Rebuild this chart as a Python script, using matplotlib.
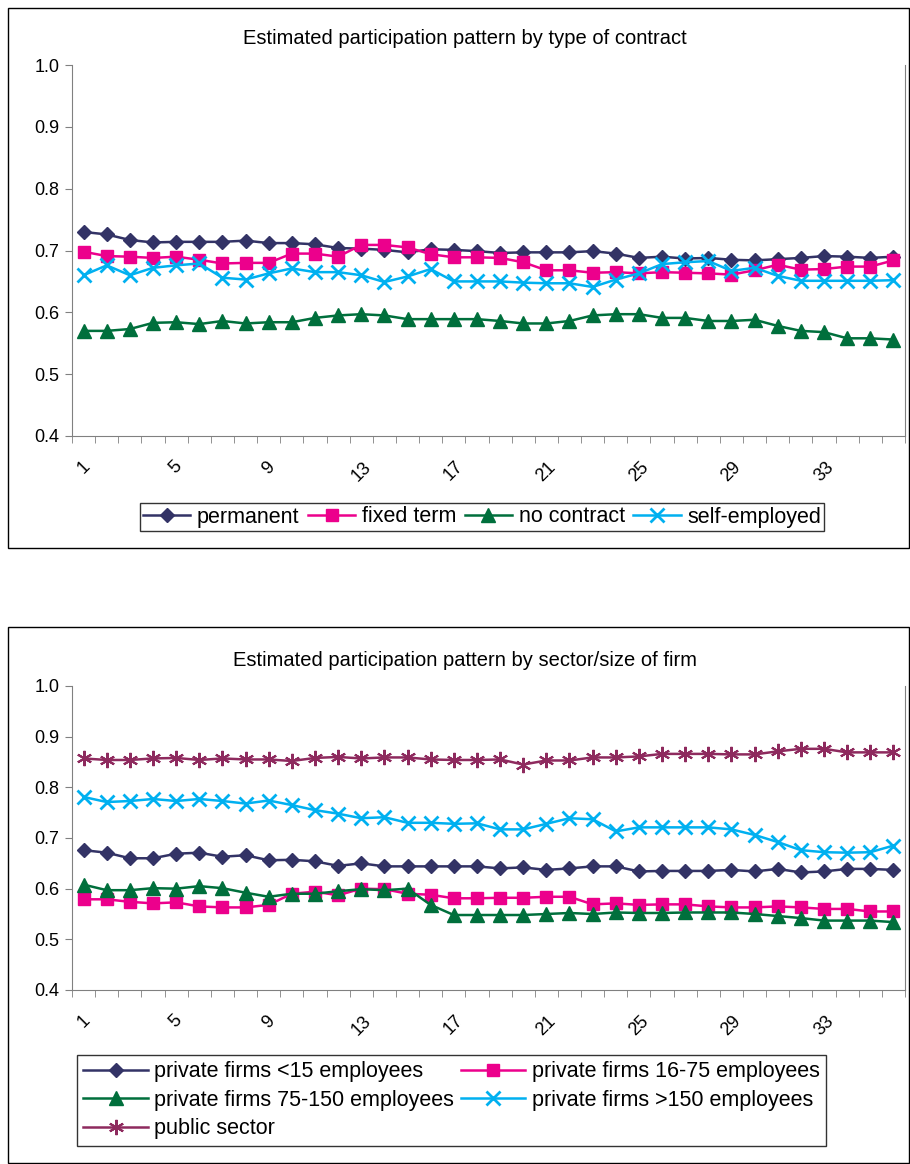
import matplotlib
matplotlib.use("Agg")
import matplotlib.pyplot as plt
from matplotlib.patches import Rectangle
import numpy as np

plt.rcParams['font.family'] = ['Liberation Sans', 'DejaVu Sans']

periods = list(range(1, 37))

permanent = [0.730,0.726,0.717,0.713,0.714,0.714,0.714,0.716,0.712,0.712,0.710,0.704,0.703,0.701,0.697,0.702,0.701,0.699,
             0.696,0.697,0.697,0.697,0.699,0.695,0.688,0.690,0.687,0.688,0.685,0.684,0.686,0.688,0.691,0.690,0.688,0.690]
fixed_term = [0.698,0.691,0.690,0.688,0.690,0.685,0.679,0.680,0.680,0.695,0.695,0.690,0.709,0.709,0.705,0.694,0.689,0.689,
              0.688,0.681,0.668,0.668,0.664,0.665,0.663,0.665,0.664,0.663,0.661,0.668,0.677,0.669,0.670,0.674,0.674,0.684]
no_contract = [0.570,0.570,0.573,0.583,0.584,0.581,0.586,0.582,0.584,0.584,0.591,0.595,0.597,0.595,0.589,0.589,0.589,0.589,
               0.586,0.582,0.582,0.586,0.595,0.597,0.597,0.591,0.591,0.586,0.586,0.588,0.578,0.570,0.568,0.558,0.558,0.556]
self_employed = [0.660,0.676,0.660,0.672,0.676,0.679,0.656,0.653,0.663,0.671,0.665,0.665,0.660,0.649,0.658,0.670,0.650,0.650,
                 0.650,0.648,0.647,0.647,0.641,0.653,0.663,0.678,0.681,0.683,0.667,0.672,0.659,0.651,0.651,0.651,0.651,0.652]

small = [0.676,0.671,0.660,0.660,0.669,0.671,0.663,0.666,0.656,0.657,0.654,0.645,0.650,0.644,0.644,0.644,0.644,0.644,
         0.640,0.642,0.637,0.640,0.644,0.644,0.634,0.635,0.635,0.635,0.637,0.634,0.639,0.632,0.634,0.639,0.639,0.637]
medium = [0.579,0.579,0.574,0.571,0.573,0.565,0.563,0.563,0.568,0.590,0.594,0.587,0.600,0.599,0.590,0.588,0.581,0.581,
          0.582,0.582,0.584,0.584,0.569,0.571,0.568,0.569,0.569,0.565,0.563,0.563,0.565,0.563,0.560,0.560,0.555,0.555]
large = [0.608,0.597,0.597,0.601,0.600,0.605,0.601,0.592,0.584,0.590,0.590,0.595,0.599,0.597,0.600,0.568,0.548,0.548,
         0.548,0.548,0.550,0.552,0.550,0.553,0.552,0.552,0.553,0.553,0.553,0.550,0.546,0.542,0.537,0.537,0.537,0.534]
very_large = [0.781,0.771,0.773,0.777,0.773,0.777,0.773,0.768,0.774,0.765,0.755,0.748,0.739,0.741,0.730,0.730,0.728,0.729,
              0.717,0.717,0.728,0.739,0.737,0.713,0.721,0.721,0.721,0.721,0.717,0.706,0.692,0.676,0.672,0.671,0.672,0.685]
public = [0.857,0.854,0.854,0.857,0.858,0.854,0.857,0.855,0.855,0.852,0.858,0.860,0.857,0.859,0.859,0.855,0.854,0.854,
          0.855,0.845,0.853,0.853,0.859,0.859,0.861,0.866,0.866,0.866,0.865,0.865,0.871,0.876,0.876,0.869,0.869,0.869]

tick_labels = ['1', '5', '9', '13', '17', '21', '25', '29', '33']
yticks = [0.4, 0.5, 0.6, 0.7, 0.8, 0.9, 1.0]

W, H = 910, 1164
fig = plt.figure(figsize=(W/100, H/100), dpi=100)
fig.patch.set_facecolor('white')

def px_axes(x0, y0, x1, y1):
    return fig.add_axes([x0/W, 1 - y1/H, (x1-x0)/W, (y1-y0)/H])

for (bx0, by0, bx1, by1) in [(8, 8, 909, 548), (8, 627, 909, 1163)]:
    fig.patches.append(Rectangle((bx0/W, 1-by1/H), (bx1-bx0)/W, (by1-by0)/H,
                                 transform=fig.transFigure, fill=False, edgecolor='black', lw=1))

def style(ax, title, ty):
    ax.set_xlim(0.5, 36.5)
    ax.set_ylim(0.4, 1.0)
    ax.set_yticks(yticks)
    ax.set_yticklabels([f'{v:.1f}' for v in yticks], fontsize=13)
    ax.set_xticks([int(t) for t in tick_labels])
    ax.set_xticklabels(tick_labels, rotation=45, fontsize=13, ha='center', va='top')
    ax.set_xticks(np.arange(0.5, 37, 1), minor=True)
    ax.tick_params(axis='x', which='major', length=0, pad=16)
    ax.tick_params(axis='x', which='minor', length=5, color='#808080')
    ax.tick_params(axis='y', length=5, color='#808080', pad=4)
    for s in ax.spines.values():
        s.set_color('#808080')
    ax.spines['top'].set_visible(False)
    fig.text(465/W, 1 - ty/H, title, ha='center', va='center', fontsize=14.5)

c_perm, c_fix, c_no, c_self, c_pub = '#333366', '#EC008C', '#006F3C', '#00B0F0', '#8E2A5E'

ax1 = px_axes(72, 65, 905, 436)
ax1.plot(periods, permanent, color=c_perm, marker='D', ms=7.5, lw=1.8, label='permanent')
ax1.plot(periods, fixed_term, color=c_fix, marker='s', ms=8.5, lw=1.8, label='fixed term')
ax1.plot(periods, no_contract, color=c_no, marker='^', ms=10, lw=1.8, label='no contract')
ax1.plot(periods, self_employed, color=c_self, marker='x', ms=10, mew=2, lw=1.8, label='self-employed')
style(ax1, 'Estimated participation pattern by type of contract', 38)
fig.legend(loc='center', bbox_to_anchor=(482/W, 1 - 517/H), ncol=4, fontsize=15.5,
           frameon=True, fancybox=False, edgecolor='black', handlelength=2.2,
           columnspacing=0.4, handletextpad=0.3, borderpad=0.15)

ax2 = px_axes(72, 686, 905, 990)
h_small = ax2.plot(periods, small, color=c_perm, marker='D', ms=7.5, lw=1.8, label='private firms <15 employees')[0]
h_med = ax2.plot(periods, medium, color=c_fix, marker='s', ms=8.5, lw=1.8, label='private firms 16-75 employees')[0]
h_large = ax2.plot(periods, large, color=c_no, marker='^', ms=10, lw=1.8, label='private firms 75-150 employees')[0]
h_vl = ax2.plot(periods, very_large, color=c_self, marker='x', ms=10, mew=2, lw=1.8, label='private firms >150 employees')[0]
h_pub = ax2.plot(periods, public, color=c_pub, marker=(6, 2, 0), ms=11, mew=1.5, lw=1.8, label='public sector')[0]
style(ax2, 'Estimated participation pattern by sector/size of firm', 660)
handles = [h_small, h_large, h_pub, h_med, h_vl]
fig.legend(handles, [h.get_label() for h in handles], loc='upper left',
           bbox_to_anchor=(66/W, 1 - 1044/H), ncol=2, fontsize=15.5,
           frameon=True, fancybox=False, edgecolor='black', handlelength=3,
           columnspacing=0.3, handletextpad=0.3, borderpad=0.3, labelspacing=0.35)

fig.savefig('out.png', dpi=100, facecolor='white')
